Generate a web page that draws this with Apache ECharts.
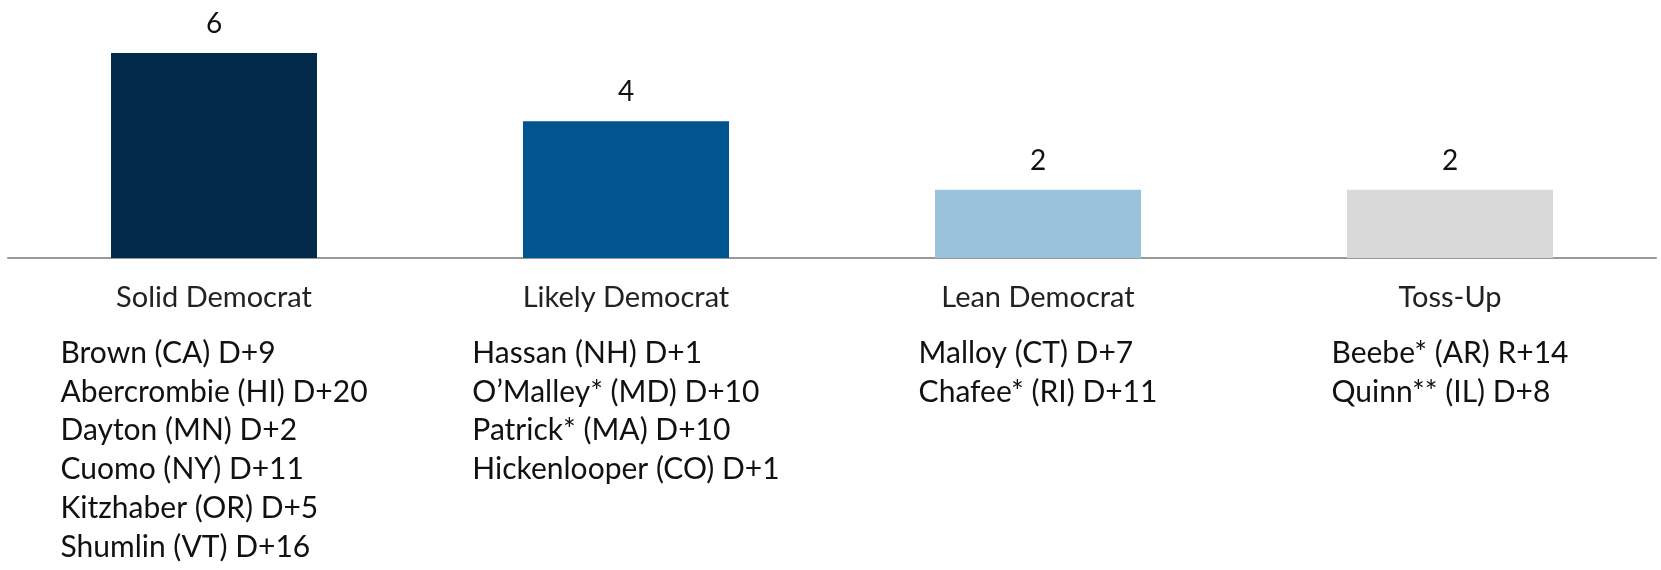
<!DOCTYPE html>
<html>
<head>
<meta charset="utf-8">
<script src="https://cdn.jsdelivr.net/npm/echarts@6/dist/echarts.min.js"></script>
<style>
  html, body { margin: 0; padding: 0; background: #fff; }
  #chart { width: 1661px; height: 570px; }
</style>
</head>
<body>
<div id="chart"></div>
<script>
// ratings and how many races sit in each
var categories = ['Solid Democrat', 'Likely Democrat', 'Lean Democrat', 'Toss-Up'];
var counts = [6, 4, 2, 2];
var barColors = ['#022a4a', '#00558f', '#9bc2db', '#d9d9d9'];

// governors listed under each rating
var solidNames = ['Brown (CA) D+9', 'Abercrombie (HI) D+20', 'Dayton (MN) D+2', 'Cuomo (NY) D+11', 'Kitzhaber (OR) D+5', 'Shumlin (VT) D+16'];
var likelyNames = ['Hassan (NH) D+1', 'O\u2019Malley* (MD) D+10', 'Patrick* (MA) D+10', 'Hickenlooper (CO) D+1'];
var leanNames = ['Malloy (CT) D+7', 'Chafee* (RI) D+11'];
var tossNames = ['Beebe* (AR) R+14', 'Quinn** (IL) D+8'];
var namesByCat = [solidNames, likelyNames, leanNames, tossNames];

var FONT = 'Lato';

var myChart = echarts.init(document.getElementById('chart'));

var option = {
  animation: false,
  grid: { left: 8, right: 5, top: 53, bottom: 312 },
  xAxis: {
    type: 'category',
    data: categories,
    axisLine: { lineStyle: { color: '#999', width: 2 } },
    axisTick: { show: false },
    axisLabel: {
      margin: 4,
      interval: 0,
      formatter: function (value, idx) {
        var lines = ['{t|' + value + '}'];
        namesByCat[idx].forEach(function (n) { lines.push('{n|' + n + '}'); });
        return lines.join('\n');
      },
      rich: {
        t: { fontFamily: FONT, fontSize: 29, color: '#222', lineHeight: 72, align: 'center' },
        n: { fontFamily: FONT, fontSize: 30, color: '#111', lineHeight: 38.7, align: 'left' }
      }
    }
  },
  yAxis: {
    type: 'value',
    min: 0,
    max: 6,
    show: false,
    splitLine: { show: false }
  },
  series: [{
    type: 'bar',
    barWidth: '50%',
    data: counts.map(function (v, i) {
      return { value: v, itemStyle: { color: barColors[i] } };
    }),
    label: {
      show: true,
      position: 'top',
      distance: 15,
      fontFamily: FONT,
      fontSize: 28,
      color: '#111'
    }
  }]
};

myChart.setOption(option);
</script>
</body>
</html>
